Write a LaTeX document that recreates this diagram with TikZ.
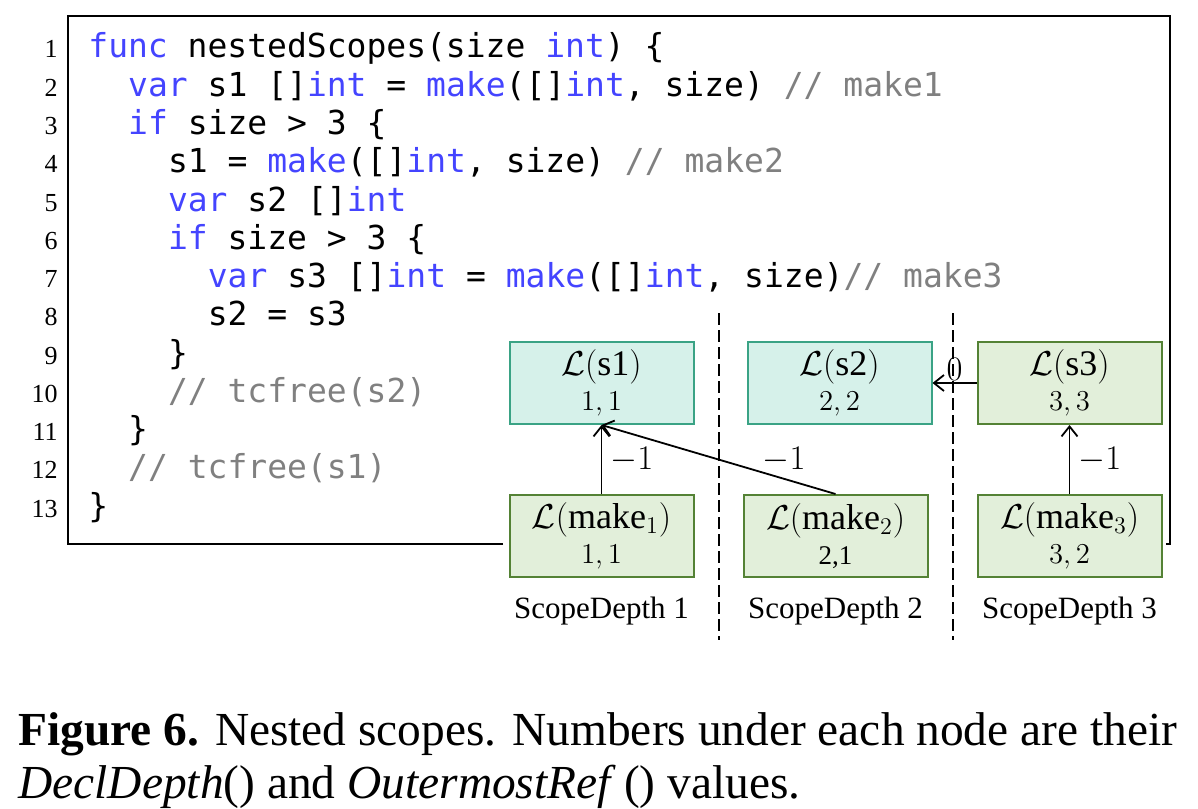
\documentclass[tikz,border=0pt]{standalone}
\usepackage{fontspec}
\setmainfont{Liberation Serif}
\newfontfamily\codefont{DejaVu Sans Mono}
\usepackage{xcolor}
\usetikzlibrary{arrows.meta,positioning}

\definecolor{varfill}{RGB}{214,241,234}
\definecolor{varline}{RGB}{58,163,133}
\definecolor{allocfill}{RGB}{226,239,218}
\definecolor{allocline}{RGB}{84,130,53}
\definecolor{kwblue}{RGB}{68,68,255}
\definecolor{cmtgray}{RGB}{128,128,128}

\newcommand{\kw}[1]{\textcolor{kwblue}{#1}}
\newcommand{\cmt}[1]{\textcolor{cmtgray}{#1}}
\newcommand{\vals}[1]{{\fontsize{13.5}{17.5}\selectfont #1}}

\begin{document}
\begin{tikzpicture}[x=0.5pt, y=-0.5pt, >={Straight Barb[length=5pt, width=8pt]}, node distance=26pt,
    code/.style={anchor=base west, inner sep=0pt, font=\fontsize{16.5}{19}\codefont},
    lno/.style={anchor=base east, inner sep=0pt, font=\fontsize{13}{15}\selectfont},
    box/.style={draw, line width=1pt, minimum width=92pt, minimum height=41pt, inner sep=0pt, align=center, font=\fontsize{18}{17.5}\selectfont},
    varbox/.style={box, draw=varline, fill=varfill},
    allocbox/.style={box, draw=allocline, fill=allocfill},
    depth/.style={inner sep=0pt, font=\fontsize{15.5}{17}\selectfont},
    weight/.style={inner sep=1pt, font=\fontsize{16}{17}\selectfont},
    link/.style={->, line width=0.9pt},
    scopeline/.style={dash pattern=on 6pt off 2.5pt, line width=0.75pt},
    caption/.style={anchor=base west, inner sep=0pt, font=\fontsize{23.7}{26}\selectfont}]
    \useasboundingbox (0,0) rectangle (1198,808);

    \draw[line width=1pt] (503,544) -| (68,16) -| (1170,544) -- (1166,544);

    \node[lno] (n1) at (58,58) {1};
    \node[lno] (n2) at (58,96.25) {2};
    \node[lno] (n3) at (58,134.5) {3};
    \node[lno] (n4) at (58,172.75) {4};
    \node[lno] (n5) at (58,211) {5};
    \node[lno] (n6) at (58,249.25) {6};
    \node[lno] (n7) at (58,287.5) {7};
    \node[lno] (n8) at (58,325.75) {8};
    \node[lno] (n9) at (58,364) {9};
    \node[lno] (n10) at (58,402.25) {10};
    \node[lno] (n11) at (58,440.5) {11};
    \node[lno] (n12) at (58,478.75) {12};
    \node[lno] (n13) at (58,517) {13};

    \node[code] (c1) at (88,58) {\kw{func} nestedScopes(size \kw{int}) \{};
    \node[code] (c2) at (127.8,96.25) {\kw{var} s1 []\kw{int} = \kw{make}([]\kw{int}, size) \cmt{// make1}};
    \node[code] (c3) at (127.8,134.5) {\kw{if} size > 3 \{};
    \node[code] (c4) at (167.6,172.75) {s1 = \kw{make}([]\kw{int}, size) \cmt{// make2}};
    \node[code] (c5) at (167.6,211) {\kw{var} s2 []\kw{int}};
    \node[code] (c6) at (167.6,249.25) {\kw{if} size > 3 \{};
    \node[code] (c7) at (207.4,287.5) {\kw{var} s3 []\kw{int} = \kw{make}([]\kw{int}, size)\cmt{// make3}};
    \node[code] (c8) at (207.4,325.75) {s2 = s3};
    \node[code] (c9) at (167.6,364) {\}};
    \node[code] (c10) at (167.6,402.25) {\cmt{// tcfree(s2)}};
    \node[code] (c11) at (127.8,440.5) {\}};
    \node[code] (c12) at (127.8,478.75) {\cmt{// tcfree(s1)}};
    \node[code] (c13) at (88,517) {\}};

    \draw[scopeline] (719,313) -- (719,640);
    \draw[scopeline] (953,313) -- (953,640);

    \node[varbox] (s1) at (601.5,383) {$\mathcal{L}(\mathrm{s1})$\\\vals{$1,1$}};
    \node[varbox, right=of s1] (s2) {$\mathcal{L}(\mathrm{s2})$\\\vals{$2,2$}};
    \node[allocbox, right=22pt of s2] (s3) {$\mathcal{L}(\mathrm{s3})$\\\vals{$3,3$}};

    \node[allocbox, below=34.5pt of s1] (make1) {$\mathcal{L}(\mathrm{make}_1)$\\\vals{$1,1$}};
    \node[allocbox, below=34.5pt of s2, xshift=-2pt] (make2) {$\mathcal{L}(\mathrm{make}_2)$\\\vals{2,1}};
    \node[allocbox, below=34.5pt of s3] (make3) {$\mathcal{L}(\mathrm{make}_3)$\\\vals{$3,2$}};

    \node[depth, below=9.5pt of make1] (d1) {ScopeDepth 1};
    \node[depth, below=9.5pt of make2] (d2) {ScopeDepth 2};
    \node[depth, below=9.5pt of make3] (d3) {ScopeDepth 3};

    \draw[link] (make1) -- (s1) node[weight, midway, right=3pt] {$-1$};
    \draw[link] (make2.north) -- (s1.south) node[weight, pos=0.22, above=2pt] {$-1$};
    \draw[link] (make3) -- (s3) node[weight, midway, right=3pt] {$-1$};
    \draw[link] (s3) -- (s2) node[weight, midway, above=0pt] {$0$};

    \node[caption] (cap1) at (18,745) {\textbf{Figure 6.} Nested scopes. Numbers under each node are their};
    \node[caption] (cap2) at (18,798) {\textit{DeclDepth}() and \textit{OutermostRef}\,() values.};
\end{tikzpicture}
\end{document}
